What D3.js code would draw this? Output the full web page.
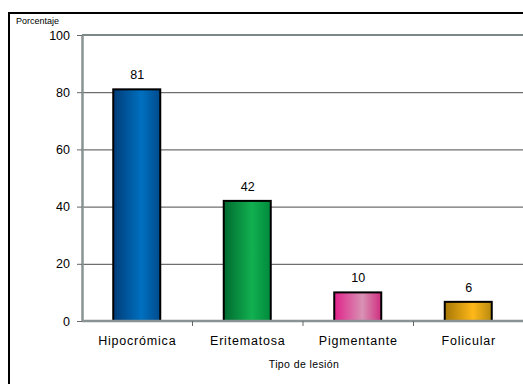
<!DOCTYPE html>
<html><head><meta charset="utf-8">
<script src="https://cdn.jsdelivr.net/npm/d3@7"></script>
<style>html,body{margin:0;padding:0;background:#fff;overflow:hidden}svg{display:block}text{font-family:"Liberation Sans",Arial,sans-serif}</style>
</head><body>
<svg id="c" width="523" height="384"></svg>
<script>
const categories = ["Hipocrómica","Eritematosa","Pigmentante","Folicular"];
const values = [81, 42, 10, 6.7];
const valueLabels = ["81","42","10","6"];
const yTicks = [0,20,40,60,80,100];
const gradients = [
  ["#003c78","#0070c0","#004a8c"],
  ["#006a30","#12b050","#008a3c"],
  ["#e0228a","#d892b4","#d02e80"],
  ["#a67606","#ffb818","#b88a10"]
];

const svg = d3.select("#c");
const m = {left:82, top:35, bottom:321, right:560};
const x = d3.scaleBand().domain(categories).range([m.left, m.left + 110*4 + 2]);
const y = d3.scaleLinear().domain([0,100]).range([m.bottom, m.top]);

const defs = svg.append("defs");
gradients.forEach((g,i)=>{
  const lg = defs.append("linearGradient").attr("id","g"+i).attr("x1","0").attr("x2","1").attr("y1","0").attr("y2","0");
  lg.append("stop").attr("offset","0").attr("stop-color",g[0]);
  lg.append("stop").attr("offset","0.6").attr("stop-color",g[1]);
  lg.append("stop").attr("offset","1").attr("stop-color",g[2]);
});

// outer frame (left and top edges visible)
svg.append("path").attr("d","M9,400V13H560").attr("fill","none").attr("stroke","#000").attr("stroke-width",2);

// gridlines
svg.append("g").selectAll("line").data(yTicks.filter(d=>d>0 && d<100)).join("line")
  .attr("x1",m.left).attr("x2",m.right).attr("y1",d=>y(d)+0.5).attr("y2",d=>y(d)+0.5)
  .attr("stroke","#4a4a4a").attr("stroke-width",1);
// top line
svg.append("line").attr("x1",m.left).attr("x2",m.right).attr("y1",y(100)).attr("y2",y(100))
  .attr("stroke","#7c8787").attr("stroke-width",2);

// y axis
const yAxis = d3.axisLeft(y).tickValues(yTicks).tickSizeInner(5).tickSizeOuter(0).tickPadding(7);
const ya = svg.append("g").attr("transform",`translate(${m.left},0)`).call(yAxis);
ya.select(".domain").attr("stroke","#8a9393").attr("stroke-width",2.5);
ya.selectAll(".tick line").attr("stroke","#666");
ya.selectAll(".tick text").attr("font-size",12.5).attr("fill","#000").attr("font-family","Liberation Sans, Arial, sans-serif");

// bars
const bw = 47;
svg.append("g").selectAll("rect").data(categories).join("rect")
  .attr("x",d=>x(d)+x.bandwidth()/2-bw/2-0.5)
  .attr("y",(d,i)=>y(values[i]))
  .attr("width",bw)
  .attr("height",(d,i)=>y(0)-y(values[i]))
  .attr("fill",(d,i)=>`url(#g${i})`)
  .attr("stroke","#000").attr("stroke-width",2);

// value labels
svg.append("g").selectAll("text").data(categories).join("text")
  .attr("x",d=>x(d)+x.bandwidth()/2)
  .attr("y",(d,i)=>y(values[i])-10)
  .attr("text-anchor","middle").attr("font-size",12.5)
  .text((d,i)=>valueLabels[i]);

// x axis
const xAxis = d3.axisBottom(x).tickSize(0).tickPadding(15);
const xa = svg.append("g").attr("transform",`translate(0,${m.bottom})`).call(xAxis);
xa.select(".domain").attr("d",`M${m.left},0H${m.right}`).attr("stroke","#8a9393").attr("stroke-width",2.5);
xa.selectAll(".tick text").attr("font-size",12.5).attr("fill","#000").attr("letter-spacing","0.8px")
  .attr("font-family","Liberation Sans, Arial, sans-serif");
// category separator ticks
svg.append("g").selectAll("line").data(categories.slice(1)).join("line")
  .attr("x1",d=>x(d)).attr("x2",d=>x(d)).attr("y1",m.bottom).attr("y2",m.bottom+5)
  .attr("stroke","#666");

// titles
svg.append("text").attr("x",16).attr("y",24).attr("font-size",9).text("Porcentaje");
svg.append("text").attr("x",304).attr("y",368).attr("text-anchor","middle").attr("font-size",10.5).attr("letter-spacing","0.4px").text("Tipo de lesión");
</script>
</body></html>
